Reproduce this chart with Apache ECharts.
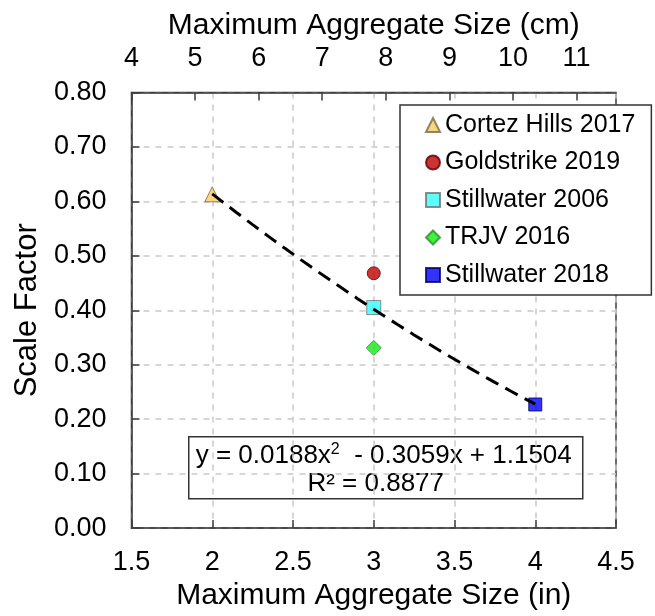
<!DOCTYPE html>
<html>
<head>
<meta charset="utf-8">
<script src="https://cdn.jsdelivr.net/npm/echarts@6/dist/echarts.min.js"></script>
<style>
  html, body { margin: 0; padding: 0; background: #fff; }
  #chart { width: 655px; height: 616px; }
</style>
</head>
<body>
<div id="chart"></div>
<script>
// Mine sites and their measured scale factors vs. maximum aggregate size (in)
const siteNames = ['Cortez Hills 2017', 'Goldstrike 2019', 'Stillwater 2006', 'TRJV 2016', 'Stillwater 2018'];
const siteSizesIn = [2, 3, 3, 3, 4];
const siteScaleFactors = [0.613, 0.468, 0.405, 0.331, 0.227];

// Quadratic trendline y = a x^2 + b x + c, as printed in the label
const trendCoeffs = [0.0188, -0.3059, 1.1504];
const trendR2 = 0.8877;
const trendRangeIn = [2, 4];

// Axis ranges and ticks
const xTicksIn = [1.5, 2, 2.5, 3, 3.5, 4, 4.5];
const yTicks = [0, 0.1, 0.2, 0.3, 0.4, 0.5, 0.6, 0.7, 0.8];
const cmTicks = [4, 5, 6, 7, 8, 9, 10, 11];

const symbols = ['triangle', 'circle', 'rect', 'diamond', 'rect'];
const fills = ['#F8CC66', '#C00000', '#33FFFF', '#11EE11', '#0000FF'];
const borders = ['#7a6a40', '#5a0000', '#707070', '#2c8c2c', '#000060'];
const sizes = [15, 13, 14, 15, 13];

const FONT = '"Liberation Sans", Arial, sans-serif';
const INK = '#000';
const FRAME = '#3c3c3c';
const GRID = '#c9c9c9';

// the cm axis spans the same physical width as the inch axis
const cmMin = cmTicks[0];
const cmMax = cmMin + (xTicksIn[xTicksIn.length - 1] - xTicksIn[0]) * 2.54;

const trendPts = [];
for (let i = 0; i <= 40; i++) {
  const x = trendRangeIn[0] + (trendRangeIn[1] - trendRangeIn[0]) * i / 40;
  trendPts.push([x, trendCoeffs[0] * x * x + trendCoeffs[1] * x + trendCoeffs[2]]);
}

const fmt = (v, d) => v.toFixed(d);
const eqLine1 = 'y = ' + fmt(trendCoeffs[0], 4) + 'x{sup|2}  - ' + fmt(-trendCoeffs[1], 4) + 'x + ' + fmt(trendCoeffs[2], 4);
const eqLine2 = 'R² = ' + fmt(trendR2, 4);

const chart = echarts.init(document.getElementById('chart'), null, { renderer: 'canvas' });

const scatterSeries = siteNames.map((name, i) => ({
  name: name,
  type: 'scatter',
  xAxisIndex: 0,
  yAxisIndex: 0,
  symbol: symbols[i],
  symbolSize: sizes[i],
  itemStyle: { color: fills[i], borderColor: borders[i], borderWidth: 1 },
  data: [[siteSizesIn[i], siteScaleFactors[i]]],
  z: 3
}));

chart.setOption({
  animation: false,
  backgroundColor: '#fff',
  textStyle: { fontFamily: FONT },
  grid: {
    left: 131.5, right: 39, top: 92.5, bottom: 86,
    show: true, borderColor: FRAME, borderWidth: 1.5, backgroundColor: 'transparent'
  },
  xAxis: [
    {
      type: 'value', position: 'bottom',
      min: xTicksIn[0], max: xTicksIn[xTicksIn.length - 1], interval: 0.5,
      name: 'Maximum Aggregate Size (in)', nameLocation: 'middle', nameGap: 51,
      nameTextStyle: { fontSize: 30, color: INK, fontFamily: FONT },
      axisLine: { show: true, lineStyle: { color: FRAME, width: 1.5 } },
      axisTick: { show: true, inside: true, length: 8, lineStyle: { color: FRAME, width: 1.5 } },
      axisLabel: { fontSize: 27, color: INK, margin: 21, fontFamily: FONT },
      splitLine: { show: true, lineStyle: { color: GRID, type: [6, 6], width: 1.5 } }
    },
    {
      type: 'value', position: 'top',
      min: cmMin, max: cmMax, interval: 1,
      name: 'Maximum Aggregate Size (cm)', nameLocation: 'middle', nameGap: 52,
      nameTextStyle: { fontSize: 30, color: INK, fontFamily: FONT },
      axisLine: { show: true, lineStyle: { color: FRAME, width: 1.5 } },
      axisTick: { show: true, inside: true, length: 8, lineStyle: { color: FRAME, width: 1.5 } },
      axisLabel: {
        fontSize: 27, color: INK, margin: 20, fontFamily: FONT, showMaxLabel: false,
        formatter: v => (cmTicks.indexOf(Math.round(v * 100) / 100) >= 0 ? String(v) : '')
      },
      splitLine: { show: false }
    }
  ],
  yAxis: [
    {
      type: 'value',
      min: yTicks[0], max: yTicks[yTicks.length - 1], interval: 0.1,
      name: 'Scale Factor', nameLocation: 'middle', nameGap: 88,
      nameTextStyle: { fontSize: 31, color: INK, fontFamily: FONT },
      axisLine: { show: true, lineStyle: { color: FRAME, width: 1.5 } },
      axisTick: { show: true, inside: true, length: 8, lineStyle: { color: FRAME, width: 1.5 } },
      axisLabel: { fontSize: 27, color: INK, margin: 25, fontFamily: FONT, formatter: v => v.toFixed(2) },
      splitLine: { show: true, lineStyle: { color: GRID, type: [6, 6], width: 1.5 } }
    }
  ],
  legend: {
    data: siteNames,
    orient: 'vertical',
    left: 400, top: 105,
    padding: [7.5, 16, 7.5, 25],
    itemWidth: 14, itemHeight: 14, itemGap: 12.5, itemTextGap: 7,
    backgroundColor: '#fff',
    borderColor: '#333', borderWidth: 1.5, borderRadius: 0,
    textStyle: { fontSize: 25, color: INK, lineHeight: 25, fontFamily: FONT },
    selectedMode: false
  },
  graphic: [
    {
      type: 'group', left: 188, top: 436, z: 50,
      children: [
        { type: 'rect', shape: { x: 0, y: 0, width: 394, height: 62 },
          style: { fill: '#fff', stroke: '#333', lineWidth: 1.5 } },
        { type: 'text', x: 195, y: 19,
          style: { text: eqLine1, fontSize: 26, fill: INK, fontFamily: FONT, align: 'center', verticalAlign: 'middle',
                   rich: { sup: { fontSize: 16, verticalAlign: 'top', padding: [0, 0, 12, 0], fontFamily: FONT, fill: INK } } } },
        { type: 'text', x: 187, y: 47,
          style: { text: eqLine2, fontSize: 26, fill: INK, fontFamily: FONT, align: 'center', verticalAlign: 'middle' } }
      ]
    }
  ],
  series: scatterSeries.concat([
    {
      name: 'trend',
      type: 'line',
      xAxisIndex: 0, yAxisIndex: 0,
      data: trendPts,
      showSymbol: false, symbol: 'none',
      lineStyle: { color: '#000', width: 3, type: [14, 8] },
      z: 5, silent: true
    }
  ])
});
</script>
</body>
</html>
